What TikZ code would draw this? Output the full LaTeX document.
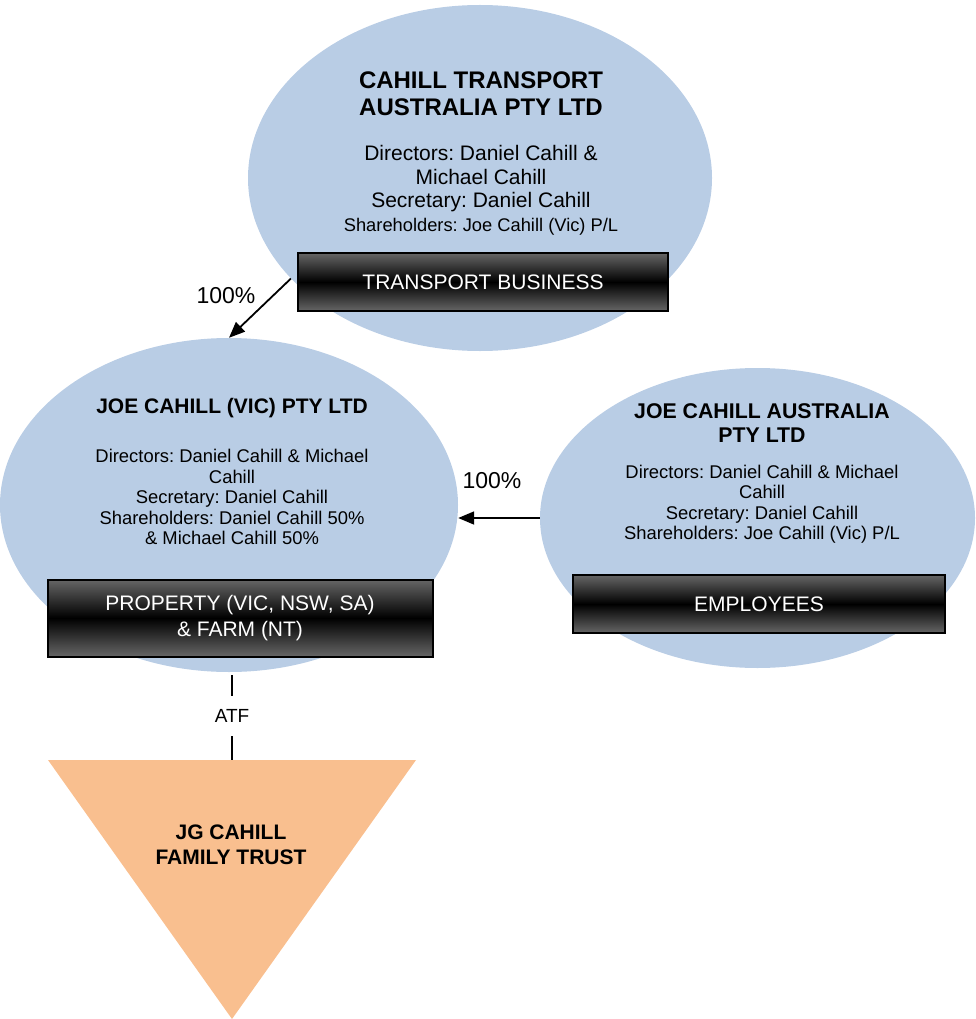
\documentclass[tikz,border=0pt]{standalone}
\usepackage{fontspec}
\setmainfont{Liberation Sans}
\usetikzlibrary{arrows.meta,shapes.geometric}
\definecolor{entblue}{RGB}{185,205,229}
\definecolor{trustorange}{RGB}{249,191,143}
\frenchspacing
\begin{document}
\begin{tikzpicture}[x=1pt,y=-1pt,
 entity/.style={ellipse, fill=entblue, draw=none, inner sep=0pt},
 bizbox/.style={rectangle, draw=black, line width=2pt, top color=black!60, bottom color=black!60, middle color=black, text=white, align=center, inner sep=0pt, font=\fontsize{21}{26}\selectfont},
 bigtitle/.style={align=center, font=\bfseries\fontsize{24}{27}\selectfont},
 midtitle/.style={align=center, font=\bfseries\fontsize{21}{24}\selectfont},
 bodytext/.style={align=center, font=\fontsize{18.4}{20.5}\selectfont},
 bigbody/.style={align=center, font=\fontsize{21}{23.5}\selectfont},
 link/.style={line width=1.8pt, -{Triangle[length=16pt,width=13pt]}},
 pct/.style={font=\fontsize{23}{25}\selectfont},
 atf/.style={font=\fontsize{19}{20}\selectfont, fill=white, inner xsep=2pt, minimum height=40pt}
]
\useasboundingbox (0,0) rectangle (975,1019);

% entities
\node[entity, minimum width=464pt, minimum height=346pt] (top) at (480,178) {};
\node[entity, minimum width=458pt, minimum height=334pt] (left) at (229,505) {};
\node[entity, minimum width=435pt, minimum height=300pt] (right) at (757.5,518) {};

% trust triangle
\coordinate (trusttop) at (232,760);
\fill[trustorange] (48,760) -- (416,760) -- (232,1019) -- cycle;
\node[midtitle, font=\bfseries\fontsize{21}{25}\selectfont] (trust) at (231,845) {JG CAHILL\\FAMILY TRUST};

% top entity text
\node[bigtitle] (toptitle) at (481,94) {CAHILL TRANSPORT\\AUSTRALIA PTY LTD};
\node[bigbody] (topbody) at (481,179) {Directors: Daniel Cahill \&\\Michael Cahill\\Secretary: Daniel Cahill};
\node[bodytext, font=\fontsize{18.3}{20}\selectfont] (topshare) at (481,227) {Shareholders: Joe Cahill (Vic) P/L};
\node[bizbox, minimum width=370pt, minimum height=58pt] (transport) at (483,282) {TRANSPORT BUSINESS};

% left entity text
\node[midtitle] (lefttitle) at (232,408) {JOE CAHILL (VIC) PTY LTD};
\node[bodytext] (leftbody) at (232,497) {Directors: Daniel Cahill \& Michael\\Cahill\\Secretary: Daniel Cahill\\Shareholders: Daniel Cahill 50\%\\\& Michael Cahill 50\%};
\node[bizbox, minimum width=385pt, minimum height=77pt] (property) at (240,618) {PROPERTY (VIC, NSW, SA)\\\& FARM (NT)};

% right entity text
\node[midtitle, font=\bfseries\fontsize{21.3}{24}\selectfont] (righttitle) at (762,423) {JOE CAHILL AUSTRALIA\\PTY LTD};
\node[bodytext] (rightbody) at (762,504) {Directors: Daniel Cahill \& Michael\\Cahill\\Secretary: Daniel Cahill\\Shareholders: Joe Cahill (Vic) P/L};
\node[bizbox, minimum width=372pt, minimum height=58pt] (employees) at (759,604) {EMPLOYEES};

% connectors
\draw[link] (top.208) -- (left.north);
\node[pct] (pct1) at (226,296) {100\%};
\draw[link] (right.west) -- (right.west -| left.east);
\node[pct] (pct2) at (492,481) {100\%};
\draw[line width=1.4pt, shorten <=3pt] (left.south -| trusttop) -- node[atf] (atflabel) {ATF} (trusttop);
\end{tikzpicture}
\end{document}
